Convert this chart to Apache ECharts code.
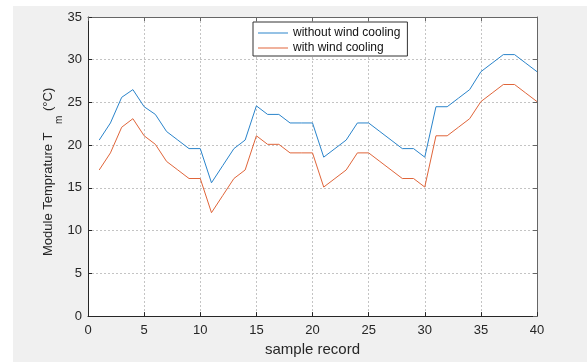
<!DOCTYPE html>
<html>
<head>
<meta charset="utf-8">
<script src="https://cdn.jsdelivr.net/npm/echarts@6/dist/echarts.min.js"></script>
<style>
  html, body { margin: 0; padding: 0; background: #ffffff; }
  #chart { width: 587px; height: 362px; }
</style>
</head>
<body>
<div id="chart"></div>
<script>
// Sample record indices
var samples = [1, 2, 3, 4, 5, 6, 7, 8, 9, 10,
               11, 12, 13, 14, 15, 16, 17, 18, 19, 20,
               21, 22, 23, 24, 25, 26, 27, 28, 29, 30,
               31, 32, 33, 34, 35, 36, 37, 38, 39, 40];

// Module temperature (°C) without wind cooling
var withoutCooling = [20.6, 22.6, 25.6, 26.5, 24.5, 23.6, 21.6, 20.6, 19.6, 19.6,
                      15.6, 17.6, 19.6, 20.6, 24.6, 23.6, 23.6, 22.6, 22.6, 22.6,
                      18.6, 19.6, 20.6, 22.6, 22.6, 21.6, 20.6, 19.6, 19.6, 18.6,
                      24.5, 24.5, 25.5, 26.5, 28.6, 29.6, 30.6, 30.6, 29.6, 28.6];

// Module temperature (°C) with wind cooling
var withCooling = [17.1, 19.1, 22.1, 23.1, 21.1, 20.1, 18.1, 17.1, 16.1, 16.1,
                   12.1, 14.1, 16.1, 17.1, 21.1, 20.1, 20.1, 19.1, 19.1, 19.1,
                   15.1, 16.1, 17.1, 19.1, 19.1, 18.1, 17.1, 16.1, 16.1, 15.1,
                   21.1, 21.1, 22.1, 23.1, 25.1, 26.1, 27.1, 27.1, 26.1, 25.1];

var seriesNames = ['without wind cooling', 'with wind cooling'];
var seriesColors = ['#2a84cb', '#e0653a'];

function pairs(xs, ys) {
  return xs.map(function (x, i) { return [x, ys[i]]; });
}

var FONT = 'Liberation Sans, Arial, sans-serif';
var gridLine = { show: true, lineStyle: { color: '#c4c4c4', type: [2, 2], width: 1 } };

var chart = echarts.init(document.getElementById('chart'), null, { renderer: 'canvas' });

chart.setOption({
  animation: false,
  backgroundColor: '#ffffff',
  grid: {
    left: 88, right: 50, top: 17, bottom: 37,
    show: true, backgroundColor: '#ffffff', borderWidth: 0
  },
  graphic: [
    // figure background
    { type: 'rect', z: -10, silent: true,
      shape: { x: 13, y: 6, width: 574, height: 356 },
      style: { fill: '#f0f0f0' } },
    // y axis title
    { type: 'text', x: 48, y: 256, rotation: Math.PI / 2, silent: true,
      style: { text: 'Module Temprature T', font: '13px ' + FONT, fill: '#262626',
               textAlign: 'left', textVerticalAlign: 'middle' } },
    { type: 'text', x: 59, y: 124, rotation: Math.PI / 2, silent: true,
      style: { text: 'm', font: '10px ' + FONT, fill: '#262626',
               textAlign: 'left', textVerticalAlign: 'middle' } },
    { type: 'text', x: 48, y: 111, rotation: Math.PI / 2, silent: true,
      style: { text: '(°C)', font: '13px ' + FONT, fill: '#262626',
               textAlign: 'left', textVerticalAlign: 'middle' } }
  ],
  legend: {
    orient: 'vertical',
    left: 253, top: 22,
    data: seriesNames.map(function (n, i) {
      return { name: n, icon: 'rect', itemStyle: { color: seriesColors[i] } };
    }),
    itemWidth: 30, itemHeight: 1, itemGap: 1,
    padding: [4, 7, 1, 5],
    backgroundColor: '#ffffff',
    borderColor: '#333333', borderWidth: 1, borderRadius: 0,
    textStyle: { fontFamily: FONT, fontSize: 12, color: '#111111', lineHeight: 14 }
  },
  xAxis: [
    {
      type: 'value', min: 0, max: 40, interval: 5,
      name: 'sample record', nameLocation: 'middle', nameGap: 22,
      nameTextStyle: { fontFamily: FONT, fontSize: 15, color: '#262626' },
      axisLine: { show: true, onZero: false, lineStyle: { color: '#262626', width: 1 } },
      axisTick: { show: true, inside: true, length: 4, lineStyle: { color: '#262626' } },
      axisLabel: { fontFamily: FONT, fontSize: 13, color: '#262626', margin: 8 },
      splitLine: gridLine
    },
    {
      type: 'value', min: 0, max: 40, interval: 5, position: 'top',
      axisLine: { show: true, onZero: false, lineStyle: { color: '#666666', width: 1 } },
      axisTick: { show: true, inside: true, length: 4, lineStyle: { color: '#666666' } },
      axisLabel: { show: false },
      splitLine: { show: false }
    }
  ],
  yAxis: [
    {
      type: 'value', min: 0, max: 35, interval: 5,
      axisLine: { show: true, onZero: false, lineStyle: { color: '#262626', width: 1 } },
      axisTick: { show: true, inside: true, length: 4, lineStyle: { color: '#262626' } },
      axisLabel: { fontFamily: FONT, fontSize: 13, color: '#262626', margin: 6 },
      splitLine: gridLine
    },
    {
      type: 'value', min: 0, max: 35, interval: 5, position: 'right',
      axisLine: { show: true, onZero: false, lineStyle: { color: '#666666', width: 1 } },
      axisTick: { show: true, inside: true, length: 4, lineStyle: { color: '#666666' } },
      axisLabel: { show: false },
      splitLine: { show: false }
    }
  ],
  series: [
    {
      name: seriesNames[0], type: 'line',
      data: pairs(samples, withoutCooling),
      symbol: 'none', showSymbol: false,
      itemStyle: { color: seriesColors[0] },
      lineStyle: { color: seriesColors[0], width: 1 }
    },
    {
      name: seriesNames[1], type: 'line',
      data: pairs(samples, withCooling),
      symbol: 'none', showSymbol: false,
      itemStyle: { color: seriesColors[1] },
      lineStyle: { color: seriesColors[1], width: 1 }
    }
  ]
});
</script>
</body>
</html>
